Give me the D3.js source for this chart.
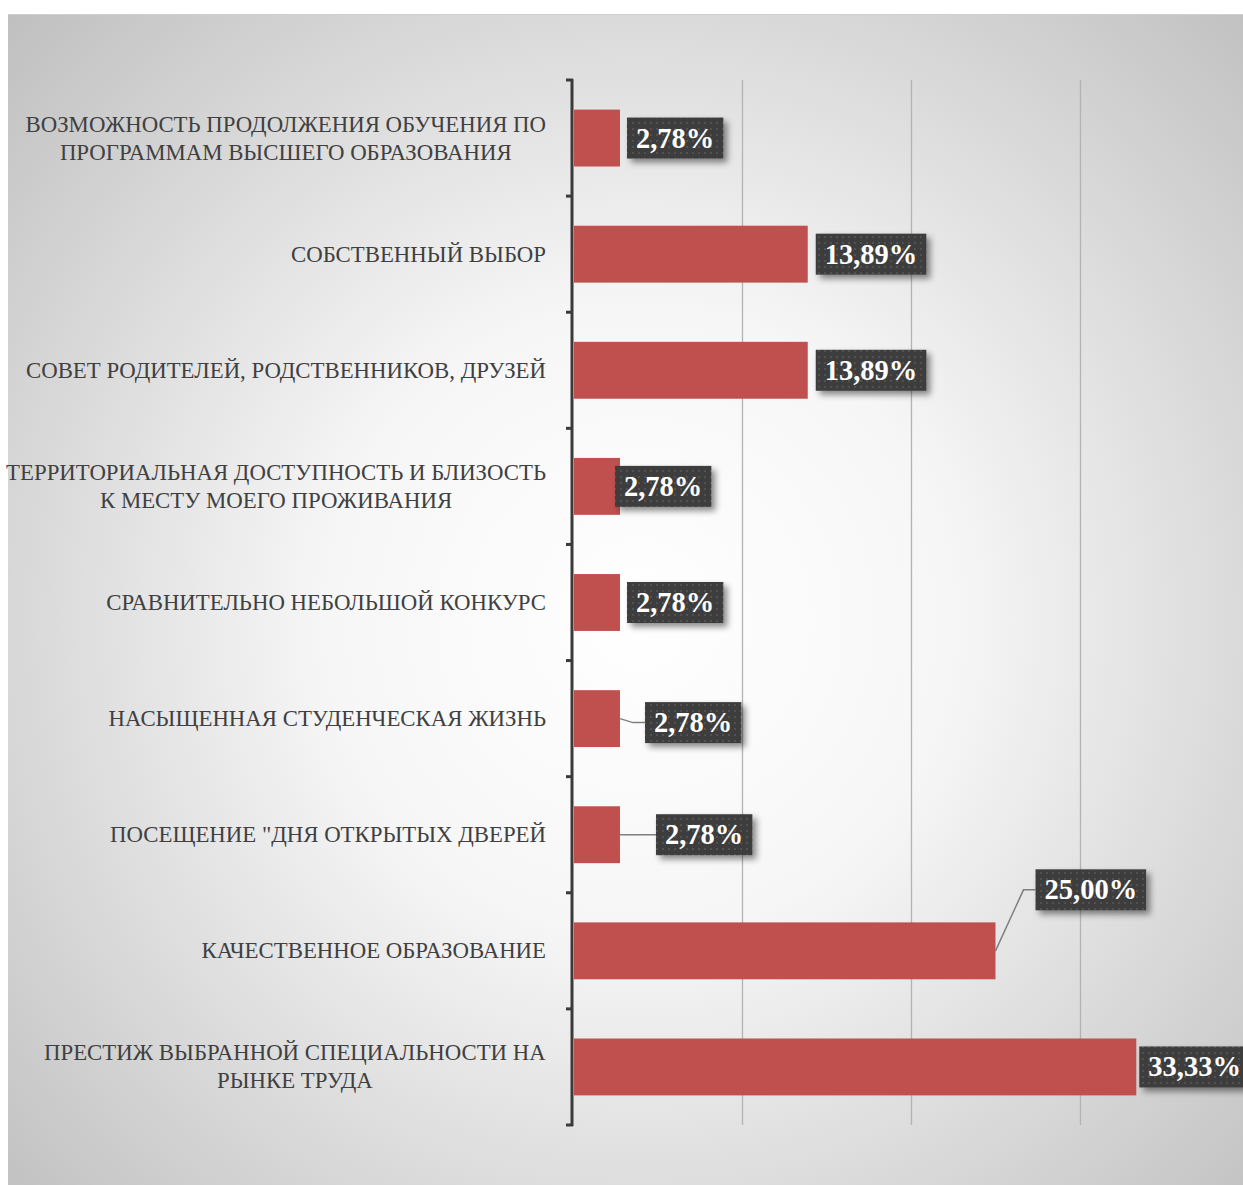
<!DOCTYPE html>
<html><head><meta charset="utf-8">
<script src="https://cdn.jsdelivr.net/npm/d3@7"></script>
<style>html,body{margin:0;padding:0;background:#fff;overflow:hidden}</style>
</head><body>
<svg id="chart" width="1243" height="1185"></svg>
<script>
const categories = [
  ["ВОЗМОЖНОСТЬ ПРОДОЛЖЕНИЯ ОБУЧЕНИЯ ПО", "ПРОГРАММАМ ВЫСШЕГО ОБРАЗОВАНИЯ"],
  ["СОБСТВЕННЫЙ ВЫБОР"],
  ["СОВЕТ РОДИТЕЛЕЙ, РОДСТВЕННИКОВ, ДРУЗЕЙ"],
  ["ТЕРРИТОРИАЛЬНАЯ ДОСТУПНОСТЬ И БЛИЗОСТЬ", "К МЕСТУ МОЕГО ПРОЖИВАНИЯ"],
  ["СРАВНИТЕЛЬНО НЕБОЛЬШОЙ КОНКУРС"],
  ["НАСЫЩЕННАЯ СТУДЕНЧЕСКАЯ ЖИЗНЬ"],
  ["ПОСЕЩЕНИЕ \"ДНЯ ОТКРЫТЫХ ДВЕРЕЙ"],
  ["КАЧЕСТВЕННОЕ ОБРАЗОВАНИЕ"],
  ["ПРЕСТИЖ ВЫБРАННОЙ СПЕЦИАЛЬНОСТИ НА", "РЫНКЕ ТРУДА"]
];
const values = [2.78, 13.89, 13.89, 2.78, 2.78, 2.78, 2.78, 25.00, 33.33];
const valueLabels = ["2,78%", "13,89%", "13,89%", "2,78%", "2,78%", "2,78%", "2,78%", "25,00%", "33,33%"];
const gridTicks = [10, 20, 30];

// label layout tweaks (dx from bar end, dy from bar center, leader line flag)
const labelShift = [
  {dx: 7, dy: 0, leader: false},
  {dx: 8, dy: 0, leader: false},
  {dx: 8, dy: 0, leader: false},
  {dx: -5, dy: 0, leader: false},
  {dx: 7, dy: 0, leader: false},
  {dx: 25, dy: 4, leader: true, bend: 12},
  {dx: 36, dy: 0, leader: true, bend: 0},
  {dx: 40, dy: -61, leader: true, bend: 12},
  {dx: 3, dy: 0, leader: false}
];

const svg = d3.select("#chart");
const defs = svg.append("defs");

const rg = defs.append("radialGradient").attr("id", "bg")
  .attr("gradientUnits", "userSpaceOnUse")
  .attr("cx", 640).attr("cy", 620).attr("r", 900);
rg.append("stop").attr("offset", "0").attr("stop-color", "#ffffff");
rg.append("stop").attr("offset", "0.35").attr("stop-color", "#f6f6f6");
rg.append("stop").attr("offset", "1").attr("stop-color", "#bdbdbd");

const pat = defs.append("pattern").attr("id", "dots")
  .attr("width", 6).attr("height", 6).attr("patternUnits", "userSpaceOnUse");
pat.append("rect").attr("width", 6).attr("height", 6).attr("fill", "#3d3d3d");
pat.append("circle").attr("cx", 3).attr("cy", 3).attr("r", 1).attr("fill", "#575757");

const sh = defs.append("filter").attr("id", "shadow").attr("x", "-20%").attr("y", "-30%").attr("width", "150%").attr("height", "180%");
sh.append("feDropShadow").attr("dx", 4).attr("dy", 4).attr("stdDeviation", 3)
  .attr("flood-color", "#000").attr("flood-opacity", 0.45);

svg.append("rect").attr("x", 8).attr("y", 14).attr("width", 1235).attr("height", 1171)
  .attr("fill", "url(#bg)");
svg.append("line").attr("x1", 8).attr("x2", 1243).attr("y1", 14.5).attr("y2", 14.5)
  .attr("stroke", "#cfcfcf");

const x = d3.scaleLinear().domain([0, 40]).range([573, 1249]);
const y = d3.scaleBand().domain(d3.range(categories.length)).range([80, 1125])
  .paddingInner(0.51).paddingOuter(0.255);

// gridlines
svg.append("g").selectAll("line").data(gridTicks).join("line")
  .attr("x1", d => Math.round(x(d)) + 0.5).attr("x2", d => Math.round(x(d)) + 0.5)
  .attr("y1", 80).attr("y2", 1125)
  .attr("stroke", "#b3b3b3").attr("stroke-width", 1.3);

// bars
svg.append("g").selectAll("rect").data(values).join("rect")
  .attr("x", x(0) + 1).attr("y", (d, i) => y(i))
  .attr("width", d => x(d) - x(0) - 1).attr("height", y.bandwidth())
  .attr("fill", "#c0504d");

// axis
const bounds = d3.range(categories.length + 1).map(i => 80 + i * (1045 / categories.length));
const ax = svg.append("g");
ax.append("line").attr("x1", 572).attr("x2", 572).attr("y1", 79).attr("y2", 1126)
  .attr("stroke", "#3a3a3a").attr("stroke-width", 3);
ax.selectAll("line.tick").data(bounds).join("line").attr("class", "tick")
  .attr("x1", 566).attr("x2", 573).attr("y1", d => d).attr("y2", d => d)
  .attr("stroke", "#3a3a3a").attr("stroke-width", 3);

// category labels
const cl = svg.append("g").attr("font-family", "'Liberation Serif', 'DejaVu Serif', serif")
  .attr("font-size", 22.8).attr("fill", "#404040").attr("text-anchor", "end");
categories.forEach((lines, i) => {
  const cy = y(i) + y.bandwidth() / 2;
  const n = lines.length;
  const t = cl.append("text").attr("x", 546).attr("y", cy);
  lines.forEach((ln, j) => {
    t.append("tspan").attr("x", 546)
      .attr("y", cy + (j - (n - 1) / 2) * 28 + 7.5)
      .attr("text-anchor", n > 1 ? "middle" : "end")
      .text(ln);
  });
  if (n > 1) {
    const w = t.node().getBBox().width;
    t.selectAll("tspan").attr("x", 546 - w / 2);
  }
});

// value labels
const lg = svg.append("g");
values.forEach((v, i) => {
  const s = labelShift[i];
  const cy = y(i) + y.bandwidth() / 2;
  const bx = x(v) + s.dx;
  const by = cy + s.dy;
  const g = lg.append("g");
  const txt = g.append("text").attr("x", 0).attr("y", 0)
    .attr("font-family", "'Liberation Serif', 'DejaVu Serif', serif")
    .attr("font-weight", "bold").attr("font-size", 28.5).attr("fill", "#ffffff")
    .text(valueLabels[i]);
  const bb = txt.node().getBBox();
  const padX = 9, h = 41;
  const w = bb.width + padX * 2;
  if (s.leader) {
    const sx = x(v);
    const pts = [[sx, cy], [bx - s.bend, by], [bx, by]];
    lg.insert("path", ":first-child")
      .attr("d", d3.line()(pts)).attr("fill", "none")
      .attr("stroke", "#7f7f7f").attr("stroke-width", 1.5);
  }
  g.insert("rect", "text").attr("x", bx).attr("y", by - h / 2).attr("width", w).attr("height", h)
    .attr("fill", "url(#dots)").attr("filter", "url(#shadow)");
  txt.attr("x", bx + padX).attr("y", by + 9.5);
});
</script>
</body></html>
